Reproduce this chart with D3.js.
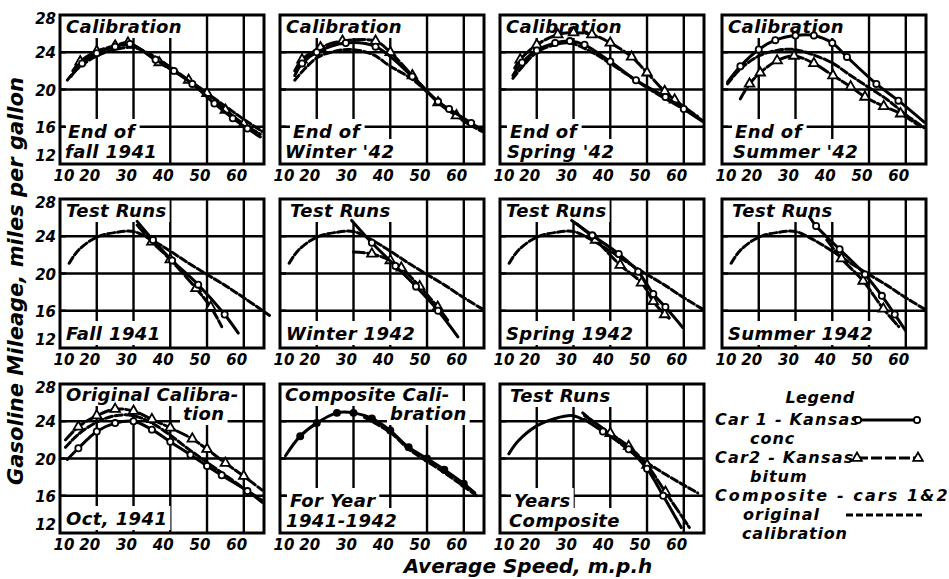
<!DOCTYPE html>
<html>
<head>
<meta charset="utf-8">
<script src="https://cdn.jsdelivr.net/npm/d3@7"></script>
<style>
  body { margin: 0; background: #fff; }
  svg { display: block; }
  text { font-family: "DejaVu Sans", "Liberation Sans", sans-serif; font-style: oblique; font-weight: bold; fill: #000; }
</style>
</head>
<body>
<svg id="chart" width="949" height="579"></svg>
<script>
// Axis ticks
const xTicks = [10, 20, 30, 40, 50, 60];
const yTicks = [12, 16, 20, 24, 28];
const xGrid = [20, 30, 40, 50, 60];
const yGrid = [16, 20, 24];
const xDomain = [10, 65.5];
const yDomain = [12, 28];

// Calibration, end of fall 1941  [mph, mpg]
const calFall41Car1 = [[13,21.4],[16,22.8],[20,23.9],[25,24.6],[29,24.9],[36,23.2],[41,22.0],[46,20.6],[52,18.5],[57,16.9],[61,15.8],[64.5,14.9]];
const calFall41Car2 = [[13.5,22.0],[15.5,23.0],[20,24.1],[25,24.7],[28.5,25.0],[37,22.9],[45,21.0],[50,19.6],[55,17.8],[60,16.3],[64.5,15.2]];
const calFall41Orig = [[12,21.0],[15,22.3],[20,23.6],[25,24.3],[30,24.5],[35,23.7],[40,22.4],[45,21.0],[50,19.6],[55,18.2],[60,16.8],[65,15.5]];

// Calibration, end of winter 1942
const calWin42Car1 = [[14,21.5],[16,22.8],[20,24.0],[27.9,25.0],[36,24.6],[46,21.4],[53,18.7],[56,17.9],[62,16.4],[65,15.6]];
const calWin42Car2 = [[14,22.0],[16,23.2],[21,24.5],[27,25.2],[36,25.2],[40,24.0],[46,21.5],[53,18.6],[58,17.2],[65,15.7]];
const calWin42Orig = [[14,21.0],[20,23.4],[25,24.1],[29,24.3],[35,23.8],[40,22.5],[46,21.1],[53,18.7],[60,16.6],[65,15.5]];

// Calibration, end of spring 1942
const calSpr42Car1 = [[13.5,21.5],[16,22.9],[20,24.2],[25,25.0],[29,25.2],[33,24.8],[40,23.0],[47,21.0],[55,19.2],[60,17.9],[65,16.6]];
const calSpr42Car2 = [[14,22.3],[15.5,23.2],[20,24.8],[25.7,25.9],[30,26.1],[35,25.9],[40,25.0],[45.8,23.5],[50,21.8],[54.8,19.8],[57.5,18.9],[63.8,17.1]];
const calSpr42Orig = [[13.5,21.2],[20,24.0],[25,24.8],[29,25.0],[35,24.0],[40,22.8],[50,20.2],[55,19.0],[60,17.9],[65,16.7]];

// Calibration, end of summer 1942
const calSum42Car1 = [[11.5,20.8],[15,22.5],[20,24.3],[24.5,25.3],[30,25.8],[35,25.8],[40,25.0],[44,23.5],[52,20.6],[58,18.8],[65,16.5]];
const calSum42Car2 = [[15,19.0],[17.5,20.6],[20.4,21.8],[25,23.1],[29.6,23.6],[35,22.8],[40.2,21.5],[45,20.3],[48.9,19.2],[54,18.2],[58.6,17.4],[64,16.0]];
const calSum42Orig = [[11.5,20.6],[15,22.2],[20,23.6],[25,24.2],[29.6,24.3],[35,23.7],[40.2,22.8],[45,21.5],[50,20.2],[55,18.9],[60,17.3],[65,15.9]];

// Original calibration carried into the test-run panels
const testBase = [[12.5,21.1],[15,22.5],[20,23.9],[25,24.4],[30,24.5],[35,23.6],[40,22.4],[45,21.1],[50,19.9],[55,18.7],[60,17.4],[65,16.2]];
const testBaseFall41 = [[12.5,21.1],[15,22.5],[20,23.9],[25,24.4],[30,24.5],[35,23.6],[40,22.4],[45,21.1],[50,19.9],[55,18.7],[60,17.4],[67,15.5]];

// Test runs
const testFall41Car1 = [[31,25.6],[35.3,23.6],[40.5,21.4],[47.6,18.8],[54.8,15.6],[58.5,13.6]];
const testFall41Car2 = [[31,25.2],[35,23.4],[40,21.5],[47,18.4],[51,16.4],[54,14.3]];
const testWin42Car1 = [[29.5,25.7],[35,23.3],[41.4,20.8],[47,18.6],[53,16.0],[58.4,13.2]];
const testWin42Car2 = [[30,22.3],[35,22.1],[40,21.4],[43,20.6],[48,18.6],[52.9,16.4],[55.6,15.0]];
const testSpr42Car1 = [[29.5,25.7],[35.1,24.1],[42.3,22.1],[47.6,20.2],[51.7,17.8],[55,16.4],[59.7,14.2]];
const testSpr42Car2 = [[31,25.3],[36,23.6],[42.7,20.9],[48.5,19.0],[51.7,17.0],[54.8,15.6],[56,15.2]];
const testSum42Car1 = [[33.8,26.1],[35.6,25.1],[42,22.6],[48.9,19.9],[53.5,17.6],[57,15.6],[59.9,13.9]];
const testSum42Car2 = [[38.5,23.6],[42.5,21.6],[48.4,19.2],[53.9,16.2],[58.1,14.3]];

// Original calibration, Oct 1941
const origOct41Car1 = [[12,19.9],[15,21.1],[20,22.9],[25,23.8],[30,24.0],[35,23.1],[40,21.8],[45.5,20.4],[50,19.2],[54,18.2],[61,16.5],[65,15.3]];
const origOct41Car2 = [[11.5,22.0],[15,23.4],[20,24.6],[25,25.3],[30,25.1],[35,24.2],[40,23.3],[46,22.1],[50,21.0],[55,19.5],[60,18.1],[65,16.6]];
const origOct41Mean = [[11.5,21.2],[15,22.6],[20,23.9],[25,24.6],[30,24.6],[35,23.8],[40,22.5],[45,21.0],[50,19.6],[55,18.2],[60,16.8],[65,15.5]];

// Composite calibration for the year 1941-1942
const compYearCurve = [[11.5,20.3],[15.5,22.4],[20,23.8],[25.5,24.9],[30,24.9],[35,24.3],[40,23.0],[45,21.2],[50,20.0],[54.7,18.8],[60,17.3],[63,16.3]];
const compYearOrig = [[33,24.4],[40,22.8],[45,21.0],[50,19.7],[55,18.4],[60,17.0],[63.5,16.0]];

// Test runs, years composite
const yrsBase = [[12.4,20.5],[15,21.9],[20,23.5],[25,24.3],[29.8,24.6],[33,24.1]];
const yrsOrig = [[32.5,24.9],[39.6,22.6],[46.8,20.4],[55,18.3],[63.8,16.3]];
const yrsCar1 = [[33,24.2],[38,22.9],[45,21.0],[50,18.9],[54.4,16.0],[59.3,12.6]];
const yrsCar2 = [[33,24.6],[40,22.7],[45,21.3],[50,19.3],[55,16.4],[61.5,12.6]];

// Layout
const PW = 204, PH = 149;
const colX = [60, 280, 500, 722];
const rowY = [15, 199, 384];

const panels = [
  { r:0, c:0, top:[["Calibration",6,18]], bottom:[["End of",8,-26],["fall 1941",5,-6]],
    series:[[calFall41Orig,"orig"],[calFall41Car2,"car2"],[calFall41Car1,"car1"]] },
  { r:0, c:1, top:[["Calibration",6,18]], bottom:[["End of",13,-26],["Winter '42",5,-6]],
    series:[[calWin42Orig,"orig"],[calWin42Car2,"car2"],[calWin42Car1,"car1"]] },
  { r:0, c:2, top:[["Calibration",6,18]], bottom:[["End of",10,-26],["Spring '42",7,-6]],
    series:[[calSpr42Orig,"orig"],[calSpr42Car2,"car2"],[calSpr42Car1,"car1"]] },
  { r:0, c:3, top:[["Calibration",6,18]], bottom:[["End of",13,-26],["Summer '42",11,-6]],
    series:[[calSum42Orig,"orig"],[calSum42Car2,"car2"],[calSum42Car1,"car1"]] },
  { r:1, c:0, top:[["Test Runs",6,18]], bottom:[["Fall 1941",6,-8]],
    series:[[testBaseFall41,"orig"],[testFall41Car2,"car2"],[testFall41Car1,"car1"]] },
  { r:1, c:1, top:[["Test Runs",10,18]], bottom:[["Winter 1942",6,-8]],
    series:[[testBase,"orig"],[testWin42Car2,"car2"],[testWin42Car1,"car1"]] },
  { r:1, c:2, top:[["Test Runs",6,18]], bottom:[["Spring 1942",6,-8]],
    series:[[testBase,"orig"],[testSpr42Car2,"car2"],[testSpr42Car1,"car1"]] },
  { r:1, c:3, top:[["Test Runs",10,18]], bottom:[["Summer 1942",6,-8]],
    series:[[testBase,"orig"],[testSum42Car2,"car2"],[testSum42Car1,"car1"]] },
  { r:2, c:0, top:[["Original  Calibra-",6,17],["tion",123,36]], bottom:[["Oct, 1941",6,-8]],
    series:[[origOct41Mean,"orig"],[origOct41Car2,"car2"],[origOct41Car1,"car1"]] },
  { r:2, c:1, top:[["Composite  Cali-",5,17],["bration",110,36]], bottom:[["For Year",10,-26],["1941-1942",6,-6]],
    series:[[compYearOrig,"orig"],[compYearCurve,"comp"]] },
  { r:2, c:2, top:[["Test Runs",10,18]], bottom:[["Years",14,-26],["Composite",9,-6]],
    series:[[yrsBase,"base"],[yrsOrig,"orig"],[yrsCar2,"car2"],[yrsCar1,"car1"]] }
];

const dashes = { car1: null, car2: "11,3", orig: "7,3", comp: null, base: null };
const svg = d3.select("#chart");

function drawMarkers(g, x, y, pts, kind) {
  const isTri = kind === "car2";
  const sym = d3.symbol().type(isTri ? d3.symbolTriangle : d3.symbolCircle).size(isTri ? 40 : 30);
  g.selectAll(null).data(pts).join("path")
    .attr("transform", d => `translate(${x(d[0])},${y(d[1])})`)
    .attr("d", sym)
    .attr("fill", kind === "comp" ? "#000" : "#fff")
    .attr("stroke", "#000").attr("stroke-width", 1.8);
}

function drawSeries(g, x, y, pts, kind) {
  const line = d3.line().x(d => x(d[0])).y(d => y(d[1])).curve(d3.curveCatmullRom.alpha(0.5));
  g.append("path").attr("d", line(pts))
    .attr("fill", "none").attr("stroke", "#000").attr("stroke-width", 3)
    .attr("stroke-linecap", "round")
    .attr("stroke-dasharray", dashes[kind]);
  if (kind === "car1" || kind === "car2" || kind === "comp") drawMarkers(g, x, y, pts.slice(1, -1), kind);
}

panels.forEach(p => {
  const g = svg.append("g").attr("transform", `translate(${colX[p.c]},${rowY[p.r]})`);
  const x = d3.scaleLinear().domain(xDomain).range([0, PW]);
  const y = d3.scaleLinear().domain(yDomain).range([PH, 0]);

  // grid
  g.selectAll(null).data(xGrid).join("line")
    .attr("x1", d => x(d)).attr("x2", d => x(d)).attr("y1", 0).attr("y2", PH)
    .attr("stroke", "#000").attr("stroke-width", 2.4);
  g.selectAll(null).data(yGrid).join("line")
    .attr("y1", d => y(d)).attr("y2", d => y(d)).attr("x1", 0).attr("x2", PW)
    .attr("stroke", "#000").attr("stroke-width", 2.4);

  // in-panel labels on white ground
  const labels = p.top.map(t => ({ t: t[0], x: t[1], y: t[2] }))
    .concat(p.bottom.map(t => ({ t: t[0], x: t[1], y: PH + t[2] })));
  const lg = g.append("g");
  labels.forEach(l => {
    const bg = lg.append("rect").attr("fill", "#fff");
    const tx = lg.append("text").attr("x", l.x).attr("y", l.y)
      .attr("font-size", 18).attr("letter-spacing", 0.4).text(l.t);
    const b = tx.node().getBBox();
    bg.attr("x", b.x - 3).attr("y", b.y - 2).attr("width", b.width + 6).attr("height", b.height + 3);
  });

  // short stubs of the horizontal grid at the left edge
  g.selectAll(null).data(yGrid).join("line")
    .attr("y1", d => y(d)).attr("y2", d => y(d)).attr("x1", 0).attr("x2", 6)
    .attr("stroke", "#000").attr("stroke-width", 2.4);

  // curves
  p.series.forEach(s => drawSeries(g, x, y, s[0], s[1]));

  // frame
  g.append("rect").attr("width", PW).attr("height", PH)
    .attr("fill", "none").attr("stroke", "#000").attr("stroke-width", 3);

  // x tick labels
  g.selectAll(null).data(xTicks).join("text")
    .attr("x", d => d === 10 ? x(d) + 4 : x(d) - 7)
    .attr("y", PH + 17)
    .attr("text-anchor", "middle").attr("font-size", 15)
    .text(d => d);

  // y tick labels on the first column
  if (p.c === 0) {
    g.selectAll(null).data(yTicks).join("text")
      .attr("x", -4)
      .attr("y", d => d === 28 ? y(d) + 9 : d === 12 ? y(d) - 3 : y(d) + 6)
      .attr("text-anchor", "end").attr("font-size", 15)
      .text(d => d);
  }
});

// axis titles
svg.append("text")
  .attr("transform", "translate(23,281) rotate(-90)")
  .attr("text-anchor", "middle").attr("font-size", 21)
  .text("Gasoline Mileage, miles per gallon");
svg.append("text")
  .attr("x", 528).attr("y", 573)
  .attr("text-anchor", "middle").attr("font-size", 20)
  .text("Average Speed, m.p.h");

// legend
const leg = svg.append("g");
const legendText = [
  ["Legend", 820, 403, "middle", 0.5],
  ["Car 1 - Kansas", 715, 425, "start", 1.2],
  ["conc", 750, 444, "start", 1],
  ["Car2 - Kansas", 715, 463, "start", 1.2],
  ["bitum", 750, 482, "start", 1],
  ["Composite - cars 1&2", 715, 501, "start", 2.1],
  ["original", 743, 520, "start", 1],
  ["calibration", 742, 539, "start", 0.8]
];
leg.selectAll(null).data(legendText).join("text")
  .attr("x", d => d[1]).attr("y", d => d[2]).attr("text-anchor", d => d[3])
  .attr("letter-spacing", d => d[4])
  .attr("font-size", 16).text(d => d[0]);

const ident = d3.scaleLinear().domain([0, 1]).range([0, 1]);
const legendLines = [
  [[[858,420],[917,420]], "car1"],
  [[[857,458],[918,458]], "car2"],
  [[[846,515],[922,515]], "orig"]
];
legendLines.forEach(([pts, kind]) => {
  leg.append("path").attr("d", d3.line()(pts))
    .attr("fill", "none").attr("stroke", "#000").attr("stroke-width", 3)
    .attr("stroke-dasharray", dashes[kind]);
  if (kind !== "orig") drawMarkers(leg, ident, ident, pts, kind);
});
</script>
</body>
</html>
